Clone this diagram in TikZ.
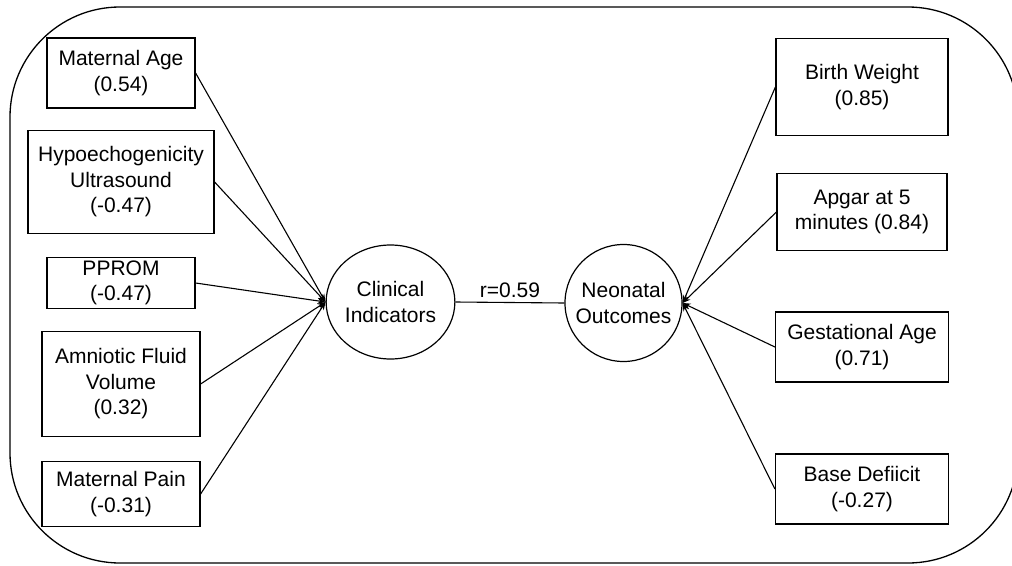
\documentclass[tikz,border=0pt]{standalone}
\usepackage{fontspec}
\setmainfont{Liberation Sans}
\usetikzlibrary{arrows.meta,shapes.geometric}
\begin{document}
\begin{tikzpicture}[x=1pt,y=-1pt,
  lbl/.style={font=\fontsize{21}{25.5}\selectfont, align=center},
  varbox/.style={lbl, draw, line width=1.2pt, inner sep=0pt},
  latent/.style={lbl, draw, line width=1.2pt, inner sep=0pt},
  link/.style={line width=1.1pt, -{Stealth[length=8pt,width=6pt]}},
  corr/.style={line width=1.1pt}]
  \useasboundingbox (0,0) rectangle (1012,565);
  \begin{scope}
    \clip (0,0) rectangle (1012,565);
    \draw[line width=1.3pt, rounded corners=110pt] (10,7) rectangle (1018,563);
  \end{scope}

  % latent constructs
  \node[latent, ellipse, minimum width=106pt, minimum height=114pt] (ci) at (390.5,302) {Clinical\\Indicators};
  \node[latent, circle, minimum size=117pt] (no) at (623.5,303) {Neonatal\\Outcomes};

  % clinical indicator measures
  \node[varbox, minimum width=148pt, minimum height=70pt]  (ma) at (121,73)  {Maternal Age\\(0.54)};
  \node[varbox, minimum width=186pt, minimum height=103pt] (hu) at (121,182) {Hypoechogenicity\\Ultrasound\\(-0.47)};
  \node[varbox, minimum width=148pt, minimum height=51pt]  (pp) at (121,283) {PPROM\\(-0.47)};
  \node[varbox, minimum width=158pt, minimum height=105pt] (af) at (121,384) {Amniotic Fluid\\Volume\\(0.32)};
  \node[varbox, minimum width=158pt, minimum height=65pt]  (mp) at (121,494) {Maternal Pain\\(-0.31)};

  % neonatal outcome measures
  \node[varbox, minimum width=172pt, minimum height=97pt] (bw) at (862,87)  {Birth Weight\\(0.85)};
  \node[varbox, minimum width=170pt, minimum height=77pt] (ap) at (862,212) {Apgar at 5\\minutes (0.84)};
  \node[varbox, minimum width=173pt, minimum height=70pt] (ga) at (862,347) {Gestational Age\\(0.71)};
  \node[varbox, minimum width=173pt, minimum height=70pt] (bd) at (862,489) {Base Defiicit\\(-0.27)};

  % loadings
  \foreach \v in {ma,hu,pp,af,mp} \draw[link] (\v.east) -- (ci.west);
  \foreach \v in {bw,ap,ga,bd} \draw[link] (\v.west) -- (no.east);

  % correlation between constructs
  \draw[corr] (ci.east) -- node[lbl, above=1pt] (r) {r=0.59} (no.west);
\end{tikzpicture}
\end{document}
